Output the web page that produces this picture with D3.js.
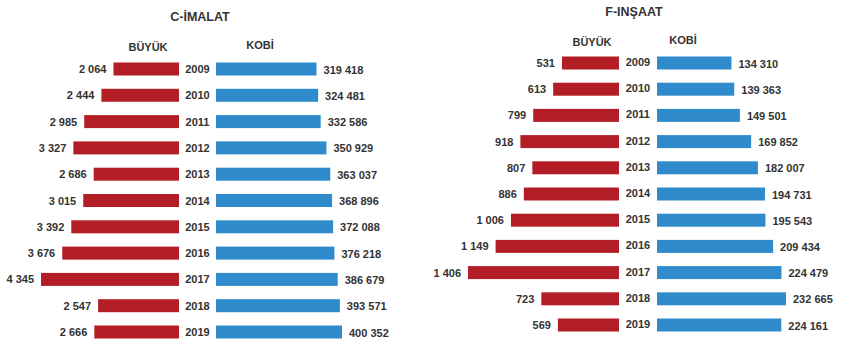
<!DOCTYPE html>
<html>
<head>
<meta charset="utf-8">
<script src="https://cdn.jsdelivr.net/npm/d3@7"></script>
<style>
  html, body { margin: 0; padding: 0; background: #fff; }
  svg { display: block; font-family: "Liberation Sans", Arial, sans-serif; }
  text { fill: #333; font-weight: bold; }
</style>
</head>
<body>
<svg id="chart" width="849" height="341"></svg>
<script>
// Enterprise counts by year: large firms (BÜYÜK) vs SMEs (KOBİ)
const years = [2009, 2010, 2011, 2012, 2013, 2014, 2015, 2016, 2017, 2018, 2019];

const imalatBuyuk = [2064, 2444, 2985, 3327, 2686, 3015, 3392, 3676, 4345, 2547, 2666];
const imalatKobi = [319418, 324481, 332586, 350929, 363037, 368896, 372088, 376218, 386679, 393571, 400352];

const insaatBuyuk = [531, 613, 799, 918, 807, 886, 1006, 1149, 1406, 723, 569];
const insaatKobi = [134310, 139363, 149501, 169852, 182007, 194731, 195543, 209434, 224479, 232665, 224161];

const panelTitles = ["C-İMALAT", "F-INŞAAT"];
const seriesNames = ["BÜYÜK", "KOBİ"];

const RED = "#b31e26";
const BLUE = "#2f8bcb";

// Thousands separated by a space, e.g. 319 418
const fmt = v => d3.format(",")(v).replace(/,/g, " ");

const svg = d3.select("#chart");

function drawPanel(cfg) {
  const g = svg.append("g");

  const y = d3.scalePoint().domain(years).range(cfg.yRange);
  const xL = d3.scaleLinear().domain([0, d3.max(cfg.left)]).range([cfg.leftBase, cfg.leftBase - cfg.leftLen]);
  const xR = d3.scaleLinear().domain([0, d3.max(cfg.right)]).range([cfg.rightBase, cfg.rightBase + cfg.rightLen]);
  const barH = 13;
  const rows = years.map((yr, i) => ({ yr, l: cfg.left[i], r: cfg.right[i] }));

  g.append("text")
    .attr("x", cfg.titleX).attr("y", cfg.titleY)
    .attr("text-anchor", "middle")
    .style("font-size", "12.5px")
    .text(cfg.title);

  g.append("text")
    .attr("x", cfg.buyukX).attr("y", cfg.headY)
    .attr("text-anchor", "middle")
    .style("font-size", "11px")
    .text(seriesNames[0]);
  g.append("text")
    .attr("x", cfg.kobiX).attr("y", cfg.headY - 2)
    .attr("text-anchor", "middle")
    .style("font-size", "11px")
    .text(seriesNames[1]);

  g.selectAll("rect.l").data(rows).join("rect")
    .attr("class", "l")
    .attr("x", d => xL(d.l))
    .attr("y", d => y(d.yr) - barH / 2)
    .attr("width", d => xL(0) - xL(d.l))
    .attr("height", barH)
    .attr("fill", RED);

  g.selectAll("rect.r").data(rows).join("rect")
    .attr("class", "r")
    .attr("x", xR(0))
    .attr("y", d => y(d.yr) - barH / 2)
    .attr("width", d => xR(d.r) - xR(0))
    .attr("height", barH)
    .attr("fill", BLUE);

  g.selectAll("text.lv").data(rows).join("text")
    .attr("class", "lv")
    .attr("x", d => xL(d.l) - 7)
    .attr("y", d => y(d.yr) + 4)
    .attr("text-anchor", "end")
    .style("font-size", "11px")
    .text(d => fmt(d.l));

  g.selectAll("text.rv").data(rows).join("text")
    .attr("class", "rv")
    .attr("x", d => xR(d.r) + 7)
    .attr("y", d => y(d.yr) + 4.5)
    .attr("text-anchor", "start")
    .style("font-size", "11px")
    .text(d => fmt(d.r));

  g.selectAll("text.yr").data(rows).join("text")
    .attr("class", "yr")
    .attr("x", (cfg.leftBase + cfg.rightBase) / 2)
    .attr("y", d => y(d.yr) + cfg.yearDy)
    .attr("text-anchor", "middle")
    .style("font-size", "11px")
    .text(d => d.yr);
}

drawPanel({
  title: panelTitles[0], titleX: 200, titleY: 21,
  buyukX: 148, kobiX: 260, headY: 51,
  left: imalatBuyuk, right: imalatKobi,
  leftBase: 179, leftLen: 138, rightBase: 216, rightLen: 126,
  yRange: [69, 332], yearDy: 4
});

drawPanel({
  title: panelTitles[1], titleX: 634, titleY: 16,
  buyukX: 592, kobiX: 683, headY: 46,
  left: insaatBuyuk, right: insaatKobi,
  leftBase: 619, leftLen: 151, rightBase: 657, rightLen: 129,
  yRange: [63, 325], yearDy: 3
});
</script>
</body>
</html>
